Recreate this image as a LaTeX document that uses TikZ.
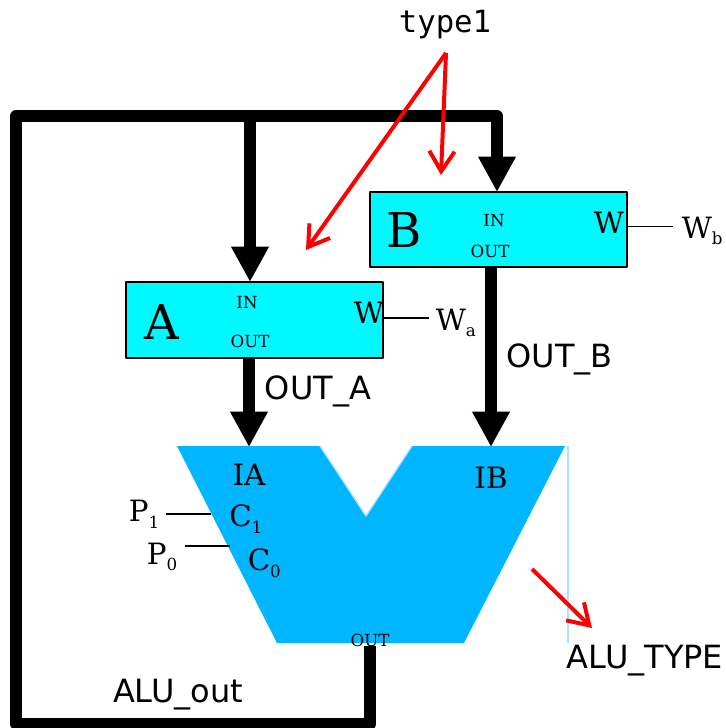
\documentclass[tikz,border=0pt]{standalone}
\usepackage{fontspec}
\usepackage{xcolor}
\usetikzlibrary{arrows.meta}
\setmainfont{DejaVu Serif}
\setsansfont{DejaVu Sans}
\setmonofont{DejaVu Sans Mono}
\definecolor{regcyan}{HTML}{00F9FF}
\definecolor{alublue}{HTML}{00B7FF}
\definecolor{aluedge}{HTML}{A8E4FF}
\newcommand{\sized}[1]{\fontsize{#1}{#1}\selectfont}
\newcommand{\subs}[1]{\raisebox{-5pt}{\sized{12.5}#1}}
\begin{document}
\begin{tikzpicture}[x=0.75pt,y=-0.75pt,line join=round,
    reg/.style={draw,fill=regcyan,line width=1.3pt,minimum width=192.5pt,minimum height=56.5pt,inner sep=0pt},
    bus/.style={line width=9pt},
    busin/.style={line width=9pt,-{Triangle[width=26.5pt,length=26.5pt]}},
    ctrl/.style={red,line width=3pt,-{Straight Barb[length=15pt,width=19pt,line width=3pt]}},
    pin/.style={line width=1.3pt},
    big/.style={font=\sized{36}},
    mid/.style={font=\sized{22}},
    tiny/.style={font=\sized{12.5}},
    sans/.style={font=\sffamily\sized{24}}]
  \useasboundingbox (0,0) rectangle (725,728);
  \fill[alublue] (177,446) -- (320,446) -- (366,516) -- (412,446) -- (565,446) -- (464,643) -- (277,643) -- cycle;
  \draw[aluedge,line width=1pt] (320,446) -- (366,516) -- (412,446);
  \draw[aluedge,line width=0.8pt] (568,446) -- (568,643);
  \node[reg] (regA) at (254.5,320) {};
  \node[reg] (regB) at (498.5,229.5) {};
  \node[tiny] (inA) at (247,303) {IN};           \node[tiny] (outA) at (250,341) {OUT};
  \node[tiny] (inB) at (494,221) {IN};           \node[tiny] (outB) at (490,251) {OUT};
  \node[big] (nameA) at (162,322) {A};           \node[big] (nameB) at (404,230) {B};
  \node[mid] (wA) at (369,313) {W};              \node[mid] (wB) at (609,223) {W};
  \node[mid,anchor=west,inner sep=0pt] (wa) at (435.5,323) {W\subs{a}};
  \node[mid,anchor=west,inner sep=0pt] (wb) at (681.5,231) {W\subs{b}};
  \node[mid] (ia) at (249,475) {IA};             \node[mid] (ib) at (491,478) {IB};
  \node[mid,anchor=west,inner sep=0pt] (c1) at (229,519) {C\subs{1}};
  \node[mid,anchor=west,inner sep=0pt] (c0) at (247.5,563) {C\subs{0}};
  \node[mid,anchor=west,inner sep=0pt] (p1) at (128.5,514) {P\subs{1}};
  \node[mid,anchor=west,inner sep=0pt] (p0) at (146.5,557) {P\subs{0}};
  \node[tiny] (aluOut) at (370,640) {OUT};
  \node[sans] (lblOutA) at (318,391) {OUT\_A};
  \node[sans] (lblOutB) at (559.5,359) {OUT\_B};
  \node[sans] (lblAlu) at (178,695) {ALU\_out};
  \node[sans] (lblType) at (645,661) {ALU\_TYPE};
  \node[font=\ttfamily\sized{23}] (type1) at (445,25) {type1};
  \coordinate (corner) at (16,116);
  \coordinate (cornerB) at (497,116);
  \coordinate (tapA) at (250,116);
  \coordinate (topA) at (250,282);
  \coordinate (topB) at (497,192);
  \coordinate (botA) at (249,358);
  \coordinate (botB) at (491,267);
  \coordinate (aluA) at (249,447);
  \coordinate (aluB) at (491,447);
  \coordinate (aluBot) at (370,646);
  \coordinate (low) at (370,724);
  \coordinate (lowL) at (16,724);
  \draw[bus] (aluBot) -- (low) -- (lowL) -- (corner) -- (cornerB) -- (topB |- 160,160);
  \draw[busin] (cornerB) -- (topB);
  \draw[busin] (tapA) -- (topA);
  \draw[busin] (botA) -- (aluA);
  \draw[busin] (botB) -- (aluB);
  \coordinate (typeTail) at (446,53);
  \coordinate (tipA) at (306,250);
  \coordinate (tipB) at (441,175);
  \coordinate (aluTail) at (532,569);
  \coordinate (aluTip) at (592,628);
  \draw[ctrl] (typeTail) -- (tipA);
  \draw[ctrl] (typeTail) -- (tipB);
  \draw[ctrl] (aluTail) -- (aluTip);
  \coordinate (wEndA) at (429,318);
  \coordinate (wEndB) at (673,226.5);
  \coordinate (p1End) at (211,514);
  \coordinate (p1Start) at (166,514);
  \coordinate (p0End) at (230,546);
  \coordinate (p0Start) at (185,546);
  \draw[pin] (regA.east |- wEndA) -- (wEndA);
  \draw[pin] (regB.east |- wEndB) -- (wEndB);
  \draw[pin] (p1Start) -- (p1End);
  \draw[pin] (p0Start) -- (p0End);
\end{tikzpicture}
\end{document}
